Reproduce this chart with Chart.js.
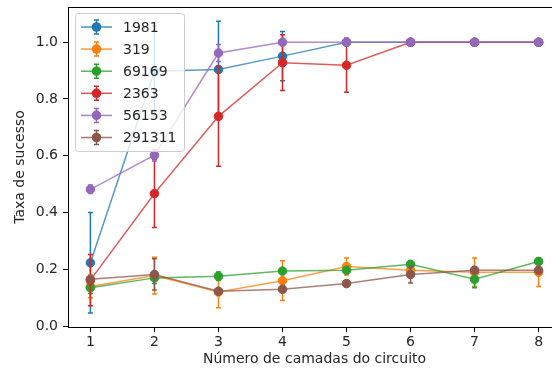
<!DOCTYPE html>
<html>
<head>
<meta charset="utf-8">
<script src="https://cdn.jsdelivr.net/npm/chart.js@4"></script>
<style>
  body { margin: 0; overflow: hidden; background: #fff; }
  #wrap { width: 570px; height: 376px; }
</style>
</head>
<body>
<div id="wrap"><canvas id="successChart" width="570" height="376"></canvas></div>
<script>
// Data
const layers = [1, 2, 3, 4, 5, 6, 7, 8];
const seriesNames = ["1981", "319", "69169", "2363", "56153", "291311"];
const colors = ["#1f77b4", "#ff7f0e", "#2ca02c", "#d62728", "#9467bd", "#8c564b"];

const rate1981 = [0.223, 0.898, 0.904, 0.951, 1.0, 1.0, 1.0, 1.0];
const err1981 = [0.177, 0.16, 0.17, 0.087, 0, 0, 0, 0];
const rate319 = [0.14, 0.178, 0.12, 0.16, 0.21, 0.197, 0.19, 0.19];
const err319 = [0.04, 0.065, 0.055, 0.07, 0.03, 0.02, 0.05, 0.05];
const rate69169 = [0.135, 0.17, 0.176, 0.194, 0.197, 0.218, 0.165, 0.228];
const err69169 = [0.02, 0.02, 0.015, 0.01, 0.01, 0.01, 0.03, 0.01];
const rate2363 = [0.162, 0.467, 0.739, 0.928, 0.919, 1.0, 1.0, 1.0];
const err2363 = [0.09, 0.12, 0.176, 0.098, 0.095, 0, 0, 0];
const rate56153 = [0.482, 0.602, 0.962, 1.0, 1.0, 1.0, 1.0, 1.0];
const err56153 = [0.015, 0.02, 0.03, 0, 0, 0, 0, 0];
const rate291311 = [0.165, 0.182, 0.123, 0.13, 0.15, 0.182, 0.197, 0.197];
const err291311 = [0.01, 0.055, 0.01, 0.01, 0.01, 0.03, 0.01, 0.01];

const rates = [rate1981, rate319, rate69169, rate2363, rate56153, rate291311];
const errors = [err1981, err319, err69169, err2363, err56153, err291311];

const xTicks = [1, 2, 3, 4, 5, 6, 7, 8];
const yTicks = [0.0, 0.2, 0.4, 0.6, 0.8, 1.0];

const FONT = "'DejaVu Sans', sans-serif";
const TEXT = "#262626";

function withAlpha(hex, a) {
  const n = parseInt(hex.slice(1), 16);
  return `rgba(${(n >> 16) & 255},${(n >> 8) & 255},${n & 255},${a})`;
}

// error bars, drawn under each series' line and markers
const errorBars = {
  id: "errorBars",
  beforeDatasetDraw(chart, args) {
    const i = args.index;
    const errs = errors[i];
    const x = chart.scales.x, y = chart.scales.y;
    const ctx = chart.ctx;
    const area = chart.chartArea;
    ctx.save();
    ctx.beginPath();
    ctx.rect(area.left, area.top, area.right - area.left, area.bottom - area.top);
    ctx.clip();
    ctx.strokeStyle = colors[i];
    ctx.lineWidth = 1.5;
    layers.forEach((l, j) => {
      if (!errs[j]) return;
      const px = x.getPixelForValue(l);
      const top = y.getPixelForValue(rates[i][j] + errs[j]);
      const bot = y.getPixelForValue(rates[i][j] - errs[j]);
      ctx.beginPath();
      ctx.moveTo(px, top); ctx.lineTo(px, bot);
      ctx.moveTo(px - 2.5, top); ctx.lineTo(px + 2.5, top);
      ctx.moveTo(px - 2.5, bot); ctx.lineTo(px + 2.5, bot);
      ctx.stroke();
    });
    ctx.restore();
  },
};

// top spine and legend box in the upper left corner
const frameAndLegend = {
  id: "frameAndLegend",
  afterDraw(chart) {
    const ctx = chart.ctx;
    const a = chart.chartArea;
    ctx.save();
    ctx.strokeStyle = "#000";
    ctx.lineWidth = 1;
    ctx.beginPath();
    ctx.moveTo(a.left, a.top + 0.5);
    ctx.lineTo(a.right, a.top + 0.5);
    ctx.lineTo(a.right - 0.5, a.bottom);
    ctx.stroke();

    const bx = 75.5, by = 13.5, bw = 109, bh = 138, r = 3;
    ctx.beginPath();
    ctx.roundRect(bx, by, bw, bh, r);
    ctx.fillStyle = "rgba(255,255,255,0.8)";
    ctx.fill();
    ctx.strokeStyle = "#cccccc";
    ctx.stroke();

    ctx.font = "14px " + FONT;
    ctx.textBaseline = "middle";
    seriesNames.forEach((name, i) => {
      const cy = 27 + i * 22.1;
      ctx.strokeStyle = withAlpha(colors[i], 0.8);
      ctx.lineWidth = 1.5;
      ctx.beginPath();
      ctx.moveTo(81, cy); ctx.lineTo(112, cy);
      ctx.stroke();
      ctx.strokeStyle = colors[i];
      ctx.beginPath();
      ctx.moveTo(96.5, cy - 7); ctx.lineTo(96.5, cy + 7);
      ctx.moveTo(94, cy - 7); ctx.lineTo(99, cy - 7);
      ctx.moveTo(94, cy + 7); ctx.lineTo(99, cy + 7);
      ctx.stroke();
      ctx.fillStyle = colors[i];
      ctx.beginPath();
      ctx.arc(96.5, cy, 4.8, 0, Math.PI * 2);
      ctx.fill();
      ctx.fillStyle = TEXT;
      ctx.fillText(name, 123, cy + 1);
    });
    ctx.restore();
  },
};

const ctx = document.getElementById("successChart").getContext("2d");
new Chart(ctx, {
  type: "line",
  data: {
    datasets: seriesNames.map((name, i) => ({
      label: name,
      data: layers.map((l, j) => ({ x: l, y: rates[i][j] })),
      borderColor: withAlpha(colors[i], 0.75),
      borderWidth: 1.5,
      backgroundColor: colors[i],
      pointBackgroundColor: colors[i],
      pointBorderColor: colors[i],
      pointBorderWidth: 1,
      pointRadius: 4.3,
      tension: 0,
      fill: false,
      order: seriesNames.length - i,
    })),
  },
  options: {
    responsive: false,
    animation: false,
    layout: { padding: { top: 7, right: 9, left: 0, bottom: 0 } },
    plugins: {
      legend: { display: false },
      tooltip: { enabled: false },
    },
    scales: {
      x: {
        type: "linear",
        min: 0.65,
        max: 8.35,
        afterFit: (s) => { s.height = 49; s.paddingLeft = 0; s.paddingRight = 0; },
        afterBuildTicks: (s) => { s.ticks = xTicks.map((v) => ({ value: v })); },
        grid: { drawOnChartArea: false, drawTicks: true, tickLength: 5, color: "#000" },
        border: { color: "#000", width: 1 },
        ticks: { color: TEXT, font: { family: FONT, size: 14 }, padding: 2, maxRotation: 0 },
        title: {
          display: true,
          text: "Número de camadas do circuito",
          color: TEXT,
          font: { family: FONT, size: 14 },
          padding: { top: 0, bottom: 8.6 },
        },
      },
      y: {
        min: -0.003,
        max: 1.124,
        afterFit: (s) => { s.width = 68; s.paddingTop = 0; s.paddingBottom = 0; },
        afterBuildTicks: (s) => { s.ticks = yTicks.map((v) => ({ value: v })); },
        grid: { drawOnChartArea: false, drawTicks: true, tickLength: 5, color: "#000" },
        border: { color: "#000", width: 1 },
        ticks: {
          color: TEXT,
          font: { family: FONT, size: 14 },
          padding: 5,
          callback: (v) => v.toFixed(1),
        },
        title: {
          display: true,
          text: "Taxa de sucesso",
          color: TEXT,
          font: { family: FONT, size: 14 },
          padding: { top: 11.6, bottom: 0 },
        },
      },
    },
  },
  plugins: [errorBars, frameAndLegend],
});
</script>
</body>
</html>
